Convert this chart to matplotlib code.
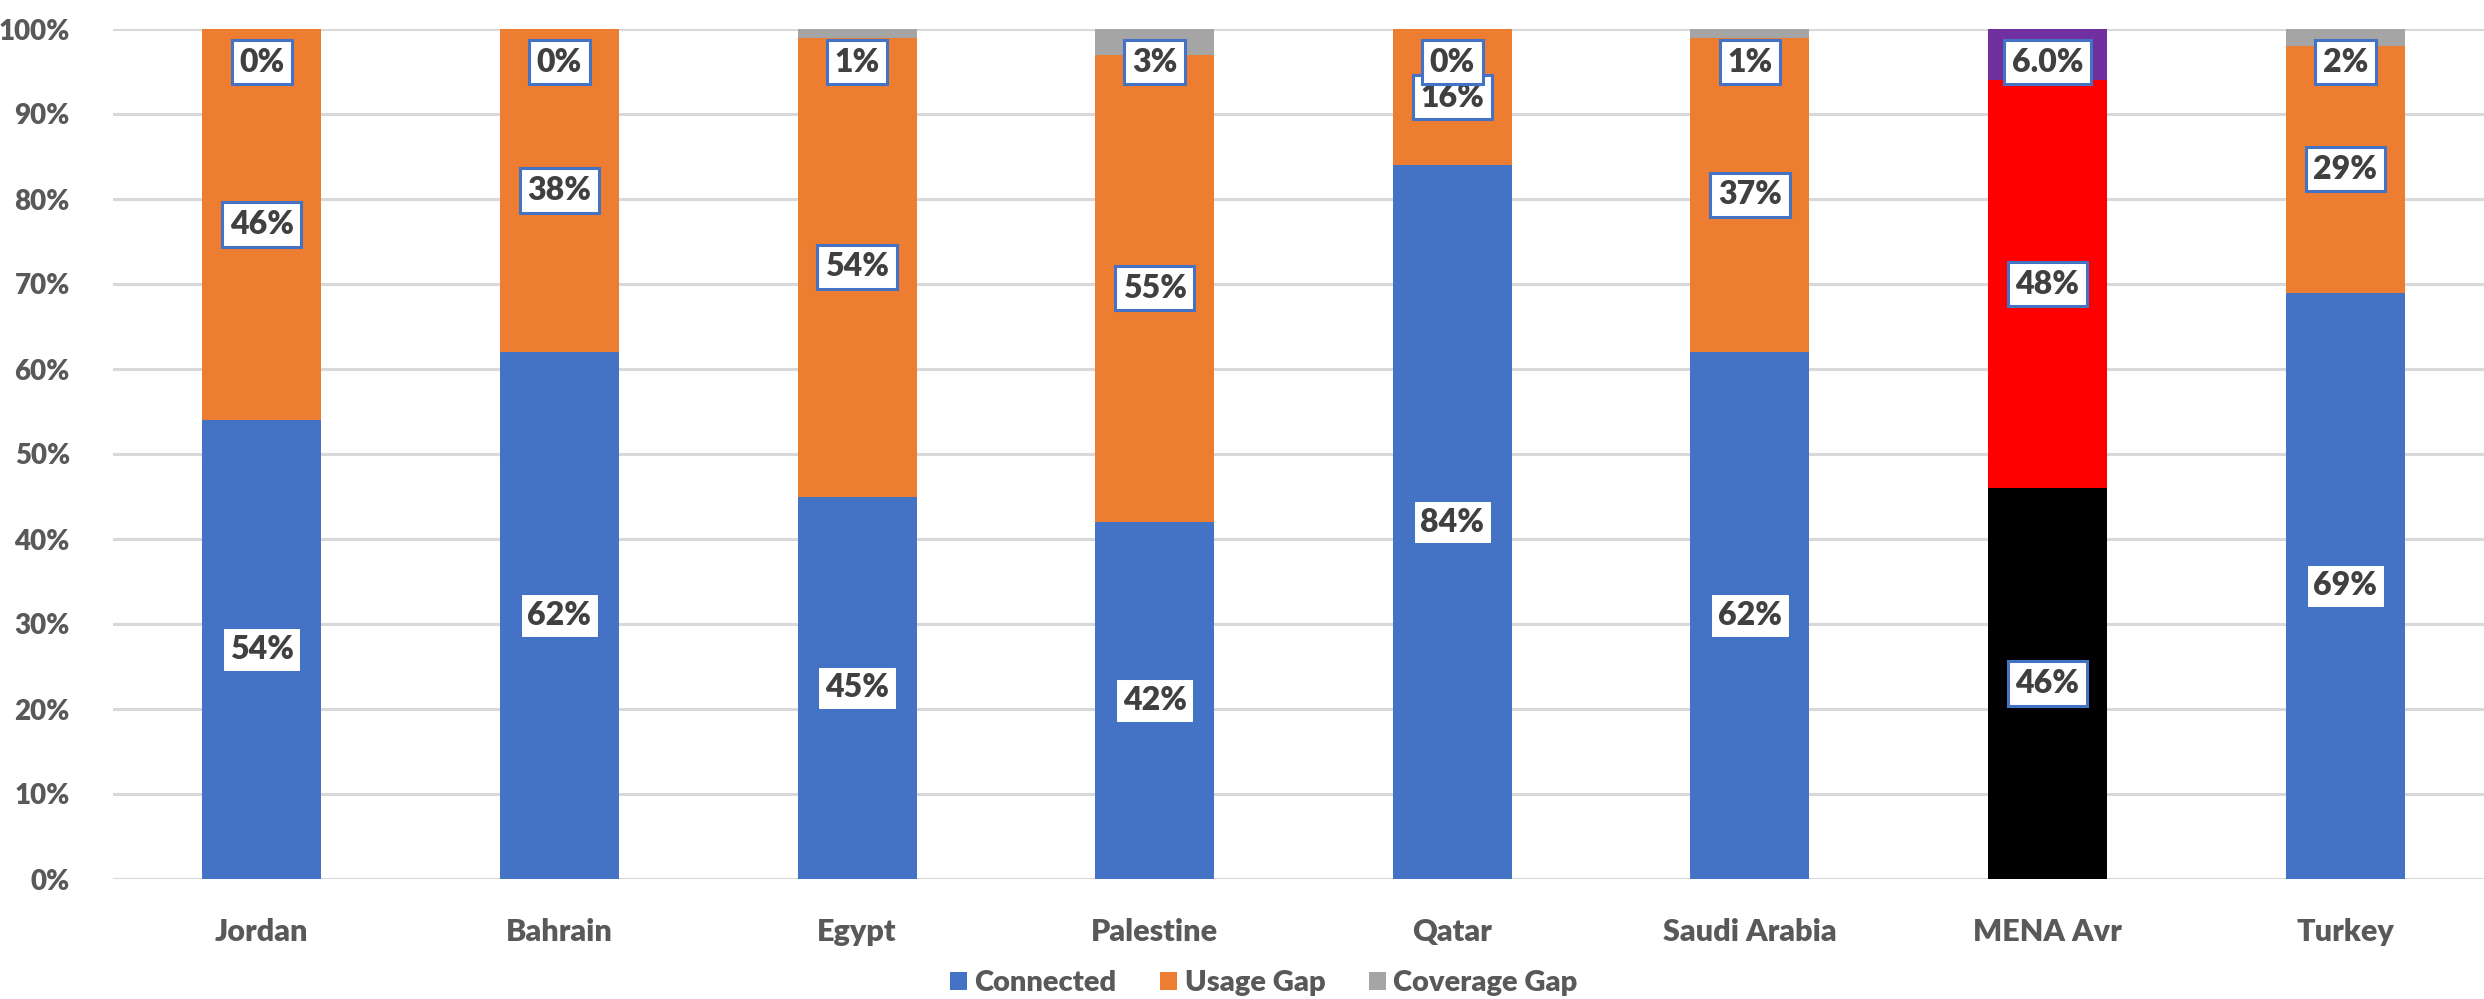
import matplotlib
matplotlib.use("Agg")
import matplotlib.pyplot as plt
import numpy as np
from matplotlib.patches import Patch

categories = ["Jordan", "Bahrain", "Egypt", "Palestine", "Qatar", "Saudi Arabia", "MENA Avr", "Turkey"]
connected = [0.54, 0.62, 0.45, 0.42, 0.84, 0.62, 0.46, 0.69]
usage_gap = [0.46, 0.38, 0.54, 0.55, 0.16, 0.37, 0.48, 0.29]
coverage_gap = [0.00, 0.00, 0.01, 0.03, 0.00, 0.01, 0.06, 0.02]
highlight = "MENA Avr"
y_ticks = [0.0, 0.1, 0.2, 0.3, 0.4, 0.5, 0.6, 0.7, 0.8, 0.9, 1.0]

plt.rcParams['font.family'] = ['Lato', 'DejaVu Sans']

BLUE, ORANGE, GRAY = "#4472C4", "#ED7D31", "#A5A5A5"
HL = ["#000000", "#FF0000", "#7030A0"]
TXT = "#404040"
AX_TXT = "#595959"
WEIGHT = 'heavy'

W, H = 2484, 999
fig = plt.figure(figsize=(W / 100, H / 100), dpi=100)
ax = fig.add_axes([113 / W, 1 - 879 / H, 2381 / W, 850 / H])

x = np.arange(len(categories))
hi = categories.index(highlight)
c1 = [HL[0] if i == hi else BLUE for i in range(len(x))]
c2 = [HL[1] if i == hi else ORANGE for i in range(len(x))]
c3 = [HL[2] if i == hi else GRAY for i in range(len(x))]

conn = np.array(connected)
usg = np.array(usage_gap)
cov = np.array(coverage_gap)
bw = 0.40
ax.bar(x, conn, bw, color=c1, zorder=3)
ax.bar(x, usg, bw, bottom=conn, color=c2, zorder=3)
ax.bar(x, cov, bw, bottom=conn + usg, color=c3, zorder=3)

ax.set_xlim(-0.5, len(x) - 0.5)
ax.set_ylim(0, 1.0)
ax.set_yticks(y_ticks)
ax.set_yticklabels([f"{int(round(t * 100))}%" for t in y_ticks])
ax.yaxis.grid(True, color="#D9D9D9", linewidth=2.2, zorder=0)
ax.set_axisbelow(True)
for s in ax.spines.values():
    s.set_visible(False)
ax.tick_params(axis='y', length=0, pad=31, labelsize=20, labelcolor=AX_TXT)
ax.tick_params(axis='x', length=0, pad=28, labelsize=22, labelcolor=AX_TXT)
ax.set_xticks(x)
ax.set_xticklabels(categories)
for lab in ax.get_xticklabels() + ax.get_yticklabels():
    lab.set_fontweight(WEIGHT)

box = dict(boxstyle="square,pad=0.24", facecolor="white", edgecolor=BLUE, linewidth=2.2)

def lab(xi, yi, txt):
    ax.text(xi, yi, txt, ha='center', va='center', fontsize=23, fontweight=WEIGHT,
            color=TXT, bbox=box, zorder=5)

for i in range(len(x)):
    lab(x[i], conn[i] / 2, f"{conn[i]:.0%}")
    lab(x[i], conn[i] + usg[i] / 2, f"{usg[i]:.0%}")
    fmt = f"{cov[i]:.1%}" if i == hi else f"{cov[i]:.0%}"
    lab(x[i], 0.961, fmt)

handles = [Patch(facecolor=BLUE, label="Connected"),
           Patch(facecolor=ORANGE, label="Usage Gap"),
           Patch(facecolor=GRAY, label="Coverage Gap")]
leg = fig.legend(handles=handles, loc='center', bbox_to_anchor=(1264 / W, 1 - 983 / H),
                 ncol=3, frameon=False, prop={'size': 21, 'weight': WEIGHT},
                 handlelength=0.58, handleheight=0.58, handletextpad=0.25, columnspacing=1.5,
                 borderpad=0, borderaxespad=0)
for t in leg.get_texts():
    t.set_color(AX_TXT)

fig.savefig("out.png", dpi=100)
